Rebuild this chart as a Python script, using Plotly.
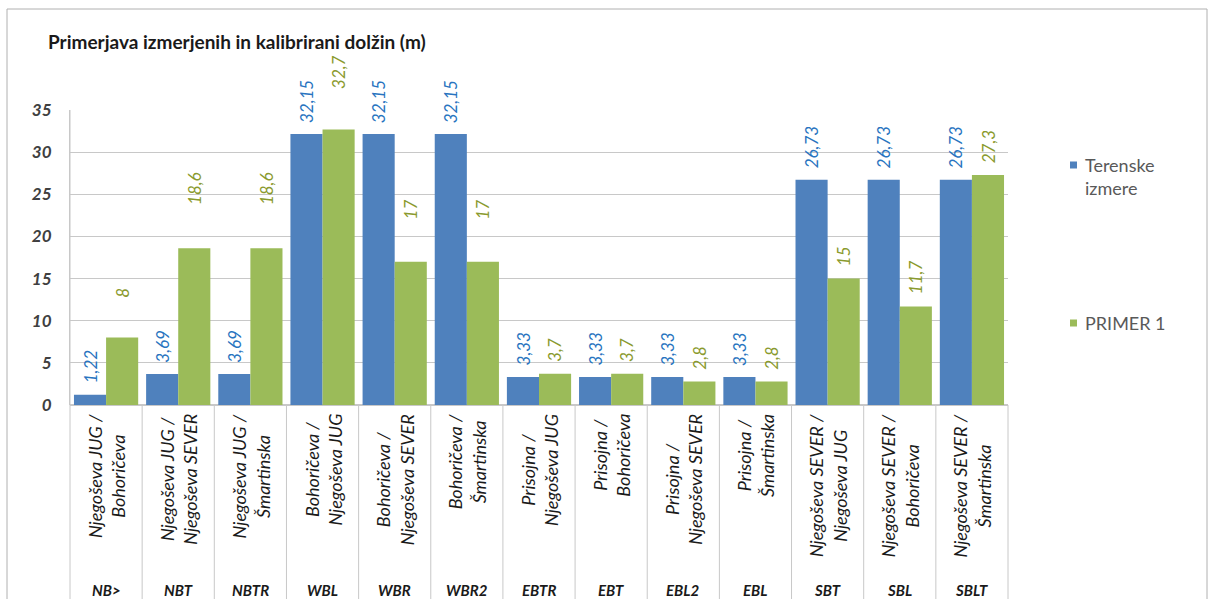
import plotly.graph_objects as go

# --- data -------------------------------------------------------------
codes = ["NB>", "NBT", "NBTR", "WBL", "WBR", "WBR2", "EBTR", "EBT",
         "EBL2", "EBL", "SBT", "SBL", "SBLT"]
routes = [
    "Njegoševa JUG /<br>Bohoričeva",
    "Njegoševa JUG /<br>Njegoševa SEVER",
    "Njegoševa JUG /<br>Šmartinska",
    "Bohoričeva /<br>Njegoševa JUG",
    "Bohoričeva /<br>Njegoševa SEVER",
    "Bohoričeva /<br>Šmartinska",
    "Prisojna /<br>Njegoševa JUG",
    "Prisojna /<br>Bohoričeva",
    "Prisojna /<br>Njegoševa SEVER",
    "Prisojna /<br>Šmartinska",
    "Njegoševa SEVER /<br>Njegoševa JUG",
    "Njegoševa SEVER /<br>Bohoričeva",
    "Njegoševa SEVER /<br>Šmartinska",
]
terenske = [1.22, 3.69, 3.69, 32.15, 32.15, 32.15, 3.33, 3.33, 3.33, 3.33,
            26.73, 26.73, 26.73]
primer1 = [8, 18.6, 18.6, 32.7, 17, 17, 3.7, 3.7, 2.8, 2.8, 15, 11.7, 27.3]
series_names = ["Terenske<br>izmere", "PRIMER 1"]
y_ticks = [0, 5, 10, 15, 20, 25, 30, 35]

# --- style ------------------------------------------------------------
W, H = 1212, 599
ML, MR, MT, MB = 70, 204, 110, 194
PW, PH = W - ML - MR, H - MT - MB
FONT = "Lato"
BLUE, GREEN = "#4F81BD", "#9BBB59"
BLUE_TXT, GREEN_TXT = "#2874C0", "#8A9A2E"
GRID = "#C8C8C8"
BAR_SHIFT = 16
# extra lift of the value labels above their bars
green_lift = [38, 41, 41, 38, 40, 40, 10, 10, 10, 10, 10, 10, 10]
blue_lift = [9] * len(codes)


def px_x(px):
    return (px - ML) / PW


def px_y(py):
    return (H - MB - py) / PH


def fmt(v):
    return f"{v:g}".replace(".", ",")


fig = go.Figure()
fig.add_trace(go.Bar(x=codes, y=terenske, name="Terenske izmere",
                     marker=dict(color=BLUE, line=dict(width=0))))
fig.add_trace(go.Bar(x=codes, y=primer1, name="PRIMER 1",
                     marker=dict(color=GREEN, line=dict(width=0))))

annotations = []
for i, c in enumerate(codes):
    # value labels above the bars, rotated
    annotations.append(dict(
        x=c, y=terenske[i], xref="x", yref="y", text=fmt(terenske[i]),
        textangle=-90, showarrow=False, xanchor="center", yanchor="bottom",
        xshift=-BAR_SHIFT, yshift=blue_lift[i],
        font=dict(family=FONT, size=17, color=BLUE_TXT, style="italic")))
    annotations.append(dict(
        x=c, y=primer1[i], xref="x", yref="y", text=fmt(primer1[i]),
        textangle=-90, showarrow=False, xanchor="center", yanchor="bottom",
        xshift=BAR_SHIFT, yshift=green_lift[i],
        font=dict(family=FONT, size=17, color=GREEN_TXT, style="italic")))
    # two-level category axis: route names (rotated) and short codes
    annotations.append(dict(
        x=c, y=px_y(412), xref="x", yref="paper", text=routes[i],
        textangle=-90, showarrow=False, xanchor="center", yanchor="top",
        align="center",
        font=dict(family=FONT, size=18, color="#1A1A1A", style="italic")))
    annotations.append(dict(
        x=c, y=px_y(590), xref="x", yref="paper", text=c,
        showarrow=False, xanchor="center", yanchor="middle",
        font=dict(family=FONT, size=15, color="#1A1A1A", style="italic",
                  weight="bold")))

# legend
shapes = []
legend_rows = [(165, BLUE, series_names[0]), (323, GREEN, series_names[1])]
for yc, col, name in legend_rows:
    shapes.append(dict(type="rect", xref="paper", yref="paper",
                       x0=px_x(1070), x1=px_x(1077),
                       y0=px_y(yc + 3.5), y1=px_y(yc - 3.5),
                       fillcolor=col, line=dict(width=0)))
    multi = "<br>" in name
    annotations.append(dict(
        x=px_x(1083), y=px_y(yc), xref="paper", yref="paper", text=name,
        showarrow=False, xanchor="left",
        yanchor="top" if multi else "middle",
        yshift=13 if multi else 0, align="left",
        font=dict(family=FONT, size=18, color="#595959")))

# category dividers below the plot area
for i in range(1, len(codes)):
    shapes.append(dict(type="line", xref="x", yref="paper",
                       x0=i - 0.5, x1=i - 0.5, y0=0, y1=px_y(620),
                       line=dict(color=GRID, width=1)))
for xp in (0, 1):
    shapes.append(dict(type="line", xref="paper", yref="paper",
                       x0=xp, x1=xp, y0=0 if xp else 1, y1=px_y(620),
                       line=dict(color=GRID, width=1)))
# chart border
shapes.append(dict(type="rect", xref="paper", yref="paper",
                   x0=px_x(7), x1=px_x(1207), y0=px_y(9), y1=px_y(640),
                   line=dict(color="#B0B0B0", width=1), layer="below"))

fig.update_layout(
    width=W, height=H,
    margin=dict(l=ML, r=MR, t=MT, b=MB),
    paper_bgcolor="white", plot_bgcolor="white",
    barmode="group", bargap=0.11, bargroupgap=0,
    showlegend=False,
    title=dict(text="Primerjava izmerjenih in kalibrirani dolžin (m)",
               x=48 / W, xref="container", xanchor="left",
               y=1 - 42 / H, yref="container", yanchor="middle",
               font=dict(family=FONT, size=19, color="#1A1A1A", weight="bold")),
    xaxis=dict(range=[-0.5, len(codes) - 0.5], showticklabels=False,
               showgrid=False, zeroline=False, showline=False, ticks=""),
    yaxis=dict(range=[0, 35], tickvals=y_ticks, showgrid=True,
               gridcolor=GRID, gridwidth=1, zeroline=True, zerolinecolor=GRID,
               showline=True, linecolor=GRID, ticks="", ticklabelstandoff=14,
               tickfont=dict(family=FONT, size=17, color="#404040",
                             style="italic", weight="bold")),
    annotations=annotations,
    shapes=shapes,
)

fig.write_html("out.html")
